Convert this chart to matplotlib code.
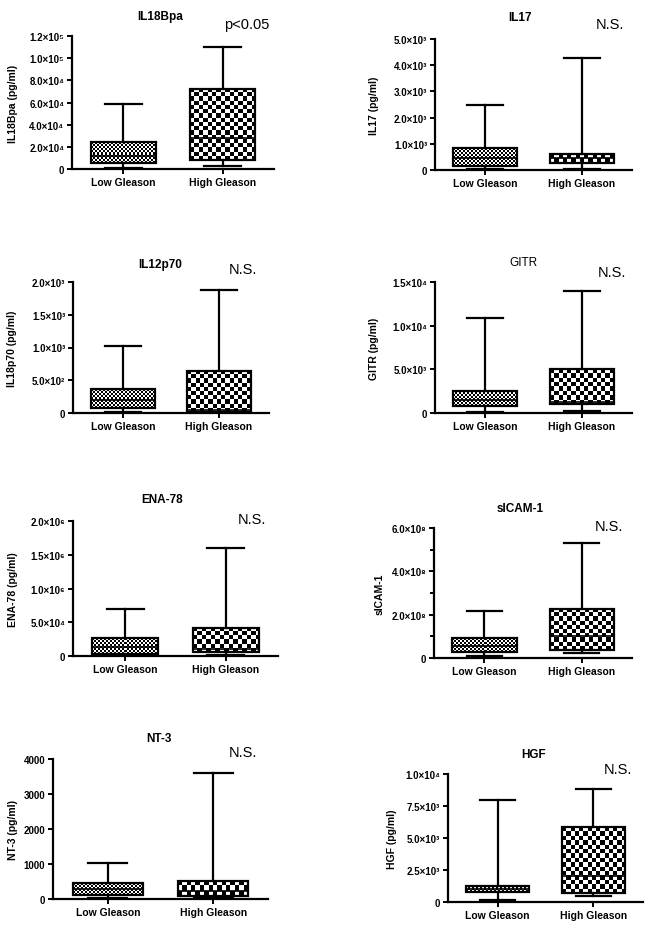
import numpy as np
import matplotlib
matplotlib.use("Agg")
import matplotlib.pyplot as plt

plt.rcParams["font.family"] = ["Liberation Sans", "DejaVu Sans"]

groups = ["Low Gleason", "High Gleason"]

# five-number summaries: [whisker low, q1, median, q3, whisker high]
il18bpa_low = [900, 5100, 12000, 24000, 58500]
il18bpa_high = [3000, 7800, 27600, 72000, 110000]
il17_low = [50, 165, 450, 827, 2480]
il17_high = [30, 254, 445, 598, 4275]
il12p70_low = [10, 76, 200, 361, 1018]
il12p70_high = [10, 15, 40, 641, 1883]
gitr_low = [100, 763, 1500, 2519, 10916]
gitr_high = [267, 1069, 1260, 5000, 13931]
ena78_low = [5000, 34600, 130000, 266700, 691000]
ena78_high = [20000, 54300, 108600, 420000, 1595000]
sicam1_low = [0.08e8, 0.28e8, 0.55e8, 0.92e8, 2.15e8]
sicam1_high = [0.22e8, 0.35e8, 1.0e8, 2.28e8, 5.29e8]
nt3_low = [29, 124, 286, 448, 1029]
nt3_high = [29, 95, 238, 524, 3610]
hgf_low = [130, 757, 1044, 1253, 7990]
hgf_high = [470, 679, 2063, 5822, 8825]

titles = ["IL18Bpa", "IL17", "IL12p70", "GITR", "ENA-78", "sICAM-1", "NT-3", "HGF"]
ylabels = ["IL18Bpa (pg/ml)", "IL17 (pg/ml)", "IL18p70 (pg/ml)", "GITR (pg/ml)",
           "ENA-78 (pg/ml)", "sICAM-1", "NT-3 (pg/ml)", "HGF (pg/ml)"]
notes = ["p<0.05", "N.S.", "N.S.", "N.S.", "N.S.", "N.S.", "N.S.", "N.S."]
yticks = [
    [0, 2e4, 4e4, 6e4, 8e4, 1e5, 1.2e5],
    [0, 1e3, 2e3, 3e3, 4e3, 5e3],
    [0, 500, 1000, 1500, 2000],
    [0, 5e3, 1e4, 1.5e4],
    [0, 5e5, 1e6, 1.5e6, 2e6],
    [0, 2e8, 4e8, 6e8],
    [0, 1000, 2000, 3000, 4000],
    [0, 2500, 5000, 7500, 10000],
]
yticklabels = [
    ["0", "2.0×10⁴", "4.0×10⁴", "6.0×10⁴", "8.0×10⁴", "1.0×10⁵", "1.2×10⁵"],
    ["0", "1.0×10³", "2.0×10³", "3.0×10³", "4.0×10³", "5.0×10³"],
    ["0", "5.0×10²", "1.0×10³", "1.5×10³", "2.0×10³"],
    ["0", "5.0×10³", "1.0×10⁴", "1.5×10⁴"],
    ["0", "5.0×10⁴", "1.0×10⁶", "1.5×10⁶", "2.0×10⁶"],
    ["0", "2.0×10⁸", "4.0×10⁸", "6.0×10⁸"],
    ["0", "1000", "2000", "3000", "4000"],
    ["0", "2.5×10³", "5.0×10³", "7.5×10³", "1.0×10⁴"],
]
low_stats = [il18bpa_low, il17_low, il12p70_low, gitr_low, ena78_low, sicam1_low, nt3_low, hgf_low]
high_stats = [il18bpa_high, il17_high, il12p70_high, gitr_high, ena78_high, sicam1_high, nt3_high, hgf_high]

# layout in pixels: axes (left, right, top, bottom), title (x, y), note (x, y), ylabel offset
W, H = 654, 929
axes_px = [(72, 274, 37, 170), (435, 632, 40, 171), (73, 269, 283, 414), (435, 632, 283, 414),
           (73, 278, 522, 657), (434, 632, 529, 659), (53, 268, 760, 900), (448, 643, 775, 903)]
title_px = [(160, 17), (520, 18), (160, 265), (523, 263), (162, 500), (520, 509), (159, 739), (534, 755)]
note_px = [(247, 25), (610, 25), (243, 270), (612, 273), (252, 520), (609, 527), (243, 753), (618, 770)]
ylab_off = [54, 56, 56, 56, 55, 49, 35, 51]
title_bold = [True, True, True, False, True, True, True, True]


def checker(ax, x0, x1, y0, y1, cell):
    p0 = ax.transData.transform((x0, y0))
    p1 = ax.transData.transform((x1, y1))
    nx = max(1, int(round(abs(p1[0] - p0[0]) / cell)))
    ny = max(1, int(round(abs(p1[1] - p0[1]) / cell)))
    arr = np.add.outer(np.arange(ny), np.arange(nx)) % 2
    ax.imshow(arr, extent=(x0, x1, y0, y1), cmap="gray", interpolation="nearest",
              aspect="auto", zorder=1, vmin=0, vmax=1)


fig = plt.figure(figsize=(W / 100, H / 100), dpi=100)

positions = [1, 2]
box_w = 0.66
for i in range(8):
    l, r, t, b = axes_px[i]
    ax = fig.add_axes([l / W, 1 - b / H, (r - l) / W, (b - t) / H])
    stats = []
    for s, name in zip([low_stats[i], high_stats[i]], groups):
        stats.append(dict(whislo=s[0], q1=s[1], med=s[2], q3=s[3], whishi=s[4], label=name))
    ylim = (0, yticks[i][-1])
    xlim = (0.48, 2.52)
    ax.set_xlim(*xlim)
    ax.set_ylim(*ylim)
    ax.bxp(stats, positions=positions, widths=box_w, showfliers=False, patch_artist=True,
           boxprops=dict(facecolor="none", edgecolor="black", linewidth=1.6, zorder=3),
           whiskerprops=dict(color="black", linewidth=1.6),
           capprops=dict(color="black", linewidth=1.6),
           medianprops=dict(color="black", linewidth=1.2, zorder=4),
           capwidths=0.37, manage_ticks=False)
    for pos, s, cell in zip(positions, [low_stats[i], high_stats[i]], [2.0, 4.3]):
        checker(ax, pos - box_w / 2, pos + box_w / 2, s[1], s[3], cell)
    ax.set_xlim(*xlim)
    ax.set_ylim(*ylim)

    ax.set_xticks(positions)
    ax.set_xticklabels(groups, fontsize=7.5, fontweight="bold")
    ax.set_yticks(yticks[i])
    ax.set_yticklabels(yticklabels[i], fontsize=7, fontweight="bold")
    if i == 5:
        ax.set_yticks([1e8, 3e8, 5e8], minor=True)
        ax.tick_params(axis="y", which="minor", length=3, width=1.4)
    ax.tick_params(axis="both", which="major", direction="out", length=3.5, width=1.4, pad=2)
    for side in ["top", "right"]:
        ax.spines[side].set_visible(False)
    for side in ["left", "bottom"]:
        ax.spines[side].set_linewidth(1.6)

    ax.set_ylabel(ylabels[i], fontsize=7.5, fontweight="bold")
    ax.yaxis.set_label_coords(-ylab_off[i] / (r - l), 0.5)

    tx, ty = title_px[i]
    fig.text(tx / W, 1 - ty / H, titles[i], fontsize=8.5, ha="center", va="center",
             fontweight="bold" if title_bold[i] else "normal")
    nx_, ny_ = note_px[i]
    fig.text(nx_ / W, 1 - ny_ / H, notes[i], fontsize=10.5, ha="center", va="center")

fig.savefig("out.png", dpi=100)
